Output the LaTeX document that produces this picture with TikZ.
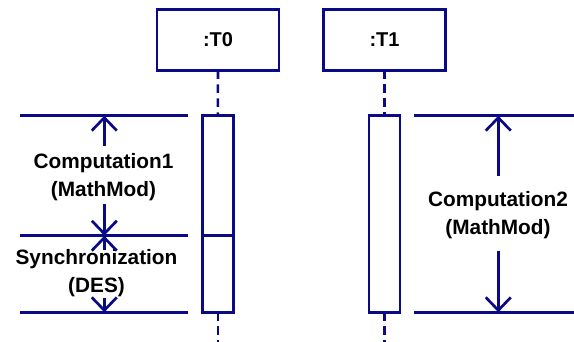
\documentclass[tikz,border=0pt]{standalone}
\usepackage{fontspec}
\setmainfont{Liberation Sans}
\usetikzlibrary{arrows.meta}
\definecolor{umlblue}{RGB}{10,10,135}
\begin{document}
\begin{tikzpicture}[x=1pt,y=-1pt,
  every node/.style={inner sep=0pt,outer sep=0pt},
  objbox/.style={draw=umlblue,line width=2.7pt,minimum width=122pt,minimum height=61pt,font=\fontsize{20}{24}\selectfont\bfseries},
  actbar/.style={draw=umlblue,line width=2.7pt,minimum width=31pt},
  lifeline/.style={draw=umlblue,line width=2.6pt,dash pattern=on 8.5pt off 5.5pt},
  hline/.style={draw=umlblue,line width=2.7pt},
  dimarrow/.style={draw=umlblue,line width=2.7pt,-{Straight Barb[length=13pt,width=25pt]}},
  lbl/.style={align=center,font=\fontsize{20.8}{28}\selectfont\bfseries,text=black}]
\useasboundingbox (0,0) rectangle (574,342);
% objects
\node[objbox] (t0) at (218,39.8) {:T0};
\node[objbox] (t1) at (384.5,39.8) {:T1};
% activation bars
\node[actbar,minimum height=120pt] (b0a) at (217.8,175.7) {};
\node[actbar,minimum height=76.6pt] (b0b) at (217.8,274) {};
\node[actbar,minimum height=196.6pt] (b1) at (384.5,214) {};
% lifelines
\coordinate (e0) at (217.8,342);
\coordinate (e1) at (384.5,342);
\draw[lifeline] (t0.south) -- (b0a.north);
\draw[lifeline] (b0b.south) -- (e0);
\draw[lifeline] (t1.south) -- (b1.north);
\draw[lifeline] (b1.south) -- (e1);
% horizontal lines left
\coordinate (l1a) at (20,115.7); \coordinate (l1b) at (188,115.7);
\coordinate (l2a) at (20,235.7); \coordinate (l2b) at (188,235.7);
\coordinate (l3a) at (20,312.3); \coordinate (l3b) at (188,312.3);
\draw[hline] (l1a) -- (l1b);
\draw[hline] (l2a) -- (l2b);
\draw[hline] (l3a) -- (l3b);
% horizontal lines right
\coordinate (r1a) at (414.3,115.7); \coordinate (r1b) at (574,115.7);
\coordinate (r3a) at (414.3,312.3); \coordinate (r3b) at (574,312.3);
\draw[hline] (r1a) -- (r1b);
\draw[hline] (r3a) -- (r3b);
% labels
\node[lbl] (c1) at (103.5,177) {Computation1\\(MathMod)};
\node[lbl] (sy) at (96.5,273.5) {Synchronization\\(DES)};
\node[lbl] (c2) at (498,215.5) {Computation2\\(MathMod)};
% dimension arrows
\coordinate (a1s) at (104.3,145.7); \coordinate (a1e) at (104.3,115.7);
\coordinate (a2s) at (104.3,204); \coordinate (a2e) at (104.3,235.7);
\coordinate (a3s) at (104.3,250.5); \coordinate (a3e) at (104.3,235.7);
\coordinate (a4s) at (104.3,297.7); \coordinate (a4e) at (104.3,312.3);
\draw[dimarrow] (a1s) -- (a1e);
\draw[dimarrow] (a2s) -- (a2e);
\draw[dimarrow] (a3s) -- (a3e);
\draw[dimarrow] (a4s) -- (a4e);
\coordinate (a5s) at (498.3,175.7); \coordinate (a5e) at (498.3,115.7);
\coordinate (a6s) at (498.3,250.7); \coordinate (a6e) at (498.3,312.3);
\draw[dimarrow] (a5s) -- (a5e);
\draw[dimarrow] (a6s) -- (a6e);
\end{tikzpicture}
\end{document}
